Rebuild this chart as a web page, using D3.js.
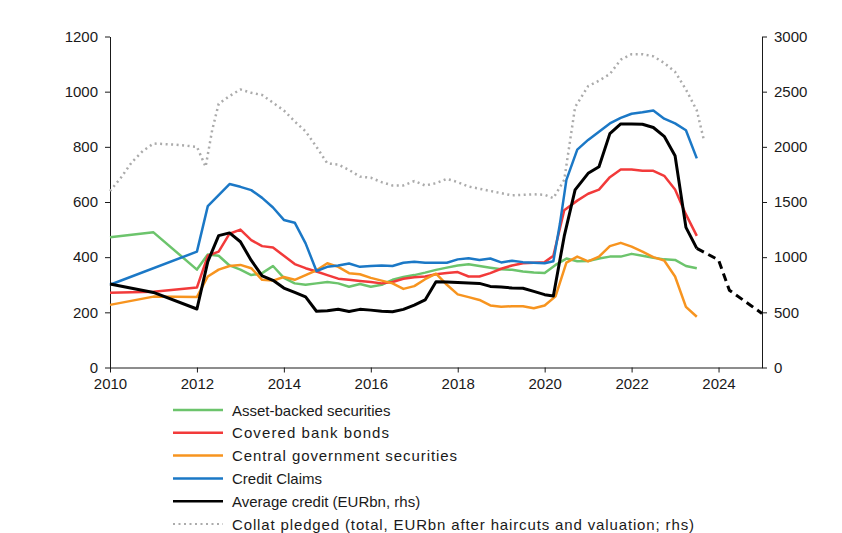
<!DOCTYPE html>
<html>
<head>
<meta charset="utf-8">
<script src="https://cdn.jsdelivr.net/npm/d3@7"></script>
<style>
	body { margin: 0; background: #fff; }
	text { font-family: "Liberation Sans", Arial, sans-serif; }
</style>
</head>
<body>
<div id="render"></div>
<script>
// lhs series, [year, value]
const assetBacked = [
	[2010, 472], [2011, 490], [2012, 355], [2012.25, 410], [2012.5, 405], [2012.75, 370],
	[2013, 355], [2013.25, 335], [2013.5, 342], [2013.75, 368], [2014, 325], [2014.25, 305],
	[2014.5, 300], [2014.75, 305], [2015, 310], [2015.25, 305], [2015.5, 293], [2015.75, 303],
	[2016, 293], [2016.25, 300], [2016.5, 318], [2016.75, 328], [2017, 335], [2017.25, 344],
	[2017.5, 354], [2017.75, 362], [2018, 370], [2018.25, 374], [2018.5, 368], [2018.75, 362],
	[2019, 356], [2019.25, 354], [2019.5, 348], [2019.75, 344], [2020, 343], [2020.25, 372],
	[2020.5, 395], [2020.75, 385], [2021, 386], [2021.25, 395], [2021.5, 402], [2021.75, 402],
	[2022, 412], [2022.25, 405], [2022.5, 398], [2022.75, 392], [2023, 390], [2023.25, 368],
	[2023.5, 360]
];
const coveredBonds = [
	[2010, 271], [2011, 275], [2012, 290], [2012.25, 405], [2012.5, 420], [2012.75, 485],
	[2013, 500], [2013.25, 462], [2013.5, 440], [2013.75, 435], [2014, 405], [2014.25, 375],
	[2014.5, 360], [2014.75, 348], [2015, 335], [2015.25, 322], [2015.5, 318], [2015.75, 314],
	[2016, 310], [2016.25, 305], [2016.5, 310], [2016.75, 322], [2017, 327], [2017.25, 330],
	[2017.5, 338], [2017.75, 343], [2018, 346], [2018.25, 330], [2018.5, 330], [2018.75, 342],
	[2019, 358], [2019.25, 370], [2019.5, 378], [2019.75, 380], [2020, 382], [2020.2, 405],
	[2020.45, 570], [2020.75, 605], [2021, 630], [2021.25, 645], [2021.5, 690], [2021.75, 718],
	[2022, 718], [2022.25, 713], [2022.5, 713], [2022.75, 695], [2023, 645], [2023.25, 555],
	[2023.5, 477]
];
const centralGovt = [
	[2010, 227], [2011, 257], [2012, 256], [2012.25, 330], [2012.5, 355], [2012.75, 368],
	[2013, 372], [2013.25, 360], [2013.5, 318], [2013.75, 315], [2014, 328], [2014.25, 318],
	[2014.5, 335], [2014.75, 352], [2015, 378], [2015.25, 365], [2015.5, 342], [2015.75, 338],
	[2016, 325], [2016.25, 315], [2016.5, 305], [2016.75, 285], [2017, 295], [2017.25, 320],
	[2017.5, 340], [2017.75, 300], [2018, 265], [2018.25, 255], [2018.5, 245], [2018.75, 225],
	[2019, 220], [2019.25, 222], [2019.5, 222], [2019.75, 215], [2020, 225], [2020.25, 258],
	[2020.5, 380], [2020.75, 402], [2021, 385], [2021.25, 402], [2021.5, 440], [2021.75, 452],
	[2022, 438], [2022.25, 420], [2022.5, 400], [2022.75, 388], [2023, 330], [2023.25, 220],
	[2023.5, 184]
];
const creditClaims = [
	[2010, 300], [2012, 420], [2012.25, 585], [2012.5, 625], [2012.75, 665], [2013, 655],
	[2013.25, 643], [2013.5, 615], [2013.75, 580], [2014, 535], [2014.25, 525], [2014.5, 450],
	[2014.75, 350], [2015, 365], [2015.25, 370], [2015.5, 377], [2015.75, 365], [2016, 368],
	[2016.25, 370], [2016.5, 368], [2016.75, 380], [2017, 383], [2017.25, 380], [2017.5, 380],
	[2017.75, 380], [2018, 392], [2018.25, 396], [2018.5, 390], [2018.75, 395], [2019, 381],
	[2019.25, 387], [2019.5, 382], [2019.75, 380], [2020, 378], [2020.2, 385], [2020.35, 520],
	[2020.5, 680], [2020.75, 790], [2021, 825], [2021.25, 855], [2021.5, 885], [2021.75, 905],
	[2022, 920], [2022.25, 925], [2022.5, 932], [2022.75, 902], [2023, 885], [2023.25, 860],
	[2023.5, 758]
];
// rhs series
const avgCredit = [
	[2010, 757], [2011, 680], [2012, 530], [2012.25, 960], [2012.5, 1195], [2012.75, 1220],
	[2013, 1140], [2013.25, 970], [2013.5, 830], [2013.75, 790], [2014, 720], [2014.25, 680],
	[2014.5, 640], [2014.75, 510], [2015, 515], [2015.25, 528], [2015.5, 508], [2015.75, 527],
	[2016, 520], [2016.25, 510], [2016.5, 505], [2016.75, 527], [2017, 565], [2017.25, 612],
	[2017.5, 778], [2017.75, 775], [2018, 770], [2018.25, 765], [2018.5, 762], [2018.75, 735],
	[2019, 730], [2019.25, 720], [2019.5, 718], [2019.75, 690], [2020, 660], [2020.2, 648],
	[2020.45, 1190], [2020.7, 1610], [2021, 1760], [2021.25, 1820], [2021.5, 2120], [2021.75, 2207],
	[2022, 2207], [2022.25, 2205], [2022.5, 2175], [2022.75, 2095], [2023, 1920], [2023.25, 1270],
	[2023.5, 1080]
];
const avgCreditForecast = [
	[2023.5, 1080], [2024, 975], [2024.25, 700], [2024.75, 560], [2025, 490]
];
const collatPledged = [
	[2010, 1600], [2010.25, 1720], [2010.5, 1860], [2010.75, 1960], [2011, 2030], [2011.5, 2020],
	[2011.75, 2010], [2012, 2000], [2012.2, 1820], [2012.35, 2150], [2012.5, 2390], [2012.75, 2460],
	[2013, 2520], [2013.25, 2490], [2013.5, 2470], [2013.75, 2400], [2014, 2330], [2014.25, 2230],
	[2014.5, 2140], [2014.75, 2000], [2015, 1850], [2015.25, 1840], [2015.5, 1790], [2015.75, 1730],
	[2016, 1720], [2016.25, 1680], [2016.5, 1650], [2016.75, 1650], [2017, 1690], [2017.25, 1650],
	[2017.5, 1670], [2017.75, 1710], [2018, 1680], [2018.25, 1640], [2018.5, 1620], [2018.75, 1600],
	[2019, 1580], [2019.25, 1560], [2019.5, 1565], [2019.75, 1570], [2020, 1565], [2020.2, 1535],
	[2020.45, 1700], [2020.7, 2360], [2021, 2550], [2021.25, 2600], [2021.5, 2660], [2021.75, 2790],
	[2022, 2840], [2022.25, 2840], [2022.5, 2820], [2022.75, 2760], [2023, 2680], [2023.25, 2520],
	[2023.5, 2330], [2023.67, 2050]
];

const xTicks = [2010, 2012, 2014, 2016, 2018, 2020, 2022, 2024];
const leftTicks = [0, 200, 400, 600, 800, 1000, 1200];
const rightTicks = [0, 500, 1000, 1500, 2000, 2500, 3000];
const legendLabels = [
	'Asset-backed securities',
	'Covered bank bonds',
	'Central government securities',
	'Credit Claims',
	'Average credit (EURbn, rhs)',
	'Collat pledged (total, EURbn after haircuts and valuation; rhs)'
];

const attrs = (sel, _attrs)=>{
	for (const i in _attrs) {
		sel.attr(i, _attrs[i]);
	}
	return sel;
};

const width = 842, height = 533;
const plot = { left: 110, right: 762, top: 36.5, bottom: 367.5 };

const x = d3.scaleLinear().domain([2010, 2025]).range([plot.left, plot.right]);
const yL = d3.scaleLinear().domain([0, 1200]).range([plot.bottom, plot.top]);
const yR = d3.scaleLinear().domain([0, 3000]).range([plot.bottom, plot.top]);

const svg = attrs(d3.select('#render').append('svg'), { width, height });

const styleAxis = (g)=>{
	g.selectAll('path, line').attr('stroke', '#1a1a1a');
	g.selectAll('text').attr('font-size', 15).attr('fill', '#1a1a1a');
};

svg.append('g')
	.attr('transform', `translate(${plot.left},0)`)
	.call(d3.axisLeft(yL).tickValues(leftTicks).tickFormat(d3.format('d')).tickSize(5).tickSizeOuter(0).tickPadding(7))
	.call(styleAxis);

svg.append('g')
	.attr('transform', `translate(${plot.right},0)`)
	.call(d3.axisRight(yR).tickValues(rightTicks).tickFormat(d3.format('d')).tickSize(5).tickSizeOuter(0).tickPadding(7))
	.call(styleAxis);

svg.append('g')
	.attr('transform', `translate(0,${plot.bottom})`)
	.call(d3.axisBottom(x).tickValues(xTicks).tickFormat(d3.format('d')).tickSize(5).tickSizeOuter(0).tickPadding(6))
	.call(styleAxis);

const lineL = d3.line().x(d=>x(d[0])).y(d=>yL(d[1]));
const lineR = d3.line().x(d=>x(d[0])).y(d=>yR(d[1]));

// one entry per legend row; textLen stretches the labels that the original sets loosely
const series = [
	{ data: assetBacked, line: lineL, color: '#6cc46c', width: 2.5 },
	{ data: coveredBonds, line: lineL, color: '#f23a3a', width: 2.5, textLen: 157 },
	{ data: centralGovt, line: lineL, color: '#f7941f', width: 2.5, textLen: 225 },
	{ data: creditClaims, line: lineL, color: '#1b78c6', width: 2.5 },
	{ data: avgCredit, line: lineR, color: '#000', width: 3 },
	{ data: collatPledged, line: lineR, color: '#ababab', width: 2.5, dash: '2,3.5', textLen: 462 },
];

series.forEach((s)=>{
	attrs(svg.append('path'), {
		d: s.line(s.data),
		fill: 'none',
		stroke: s.color,
		'stroke-width': s.width,
		'stroke-linejoin': 'round',
		'stroke-dasharray': s.dash || null,
	});
});

attrs(svg.append('path'), {
	d: lineR(avgCreditForecast),
	fill: 'none',
	stroke: '#000',
	'stroke-width': 3,
	'stroke-dasharray': '8,5',
});

const legend = svg.append('g').attr('transform', 'translate(173,410)');
legendLabels.forEach((label, i)=>{
	const s = series[i];
	const row = legend.append('g').attr('transform', `translate(0,${i * 22.8})`);
	attrs(row.append('line'), {
		x1: 0, x2: 50, y1: 0, y2: 0,
		stroke: s.color,
		'stroke-width': s.dash ? 2 : 2.5,
		'stroke-dasharray': s.dash || null,
	});
	const t = attrs(row.append('text'), {
		x: 59, y: 5.5,
		'font-size': 15,
		fill: '#1a1a1a',
	}).text(label);
	if (s.textLen) attrs(t, { textLength: s.textLen, lengthAdjust: 'spacing' });
});
</script>
</body>
</html>
